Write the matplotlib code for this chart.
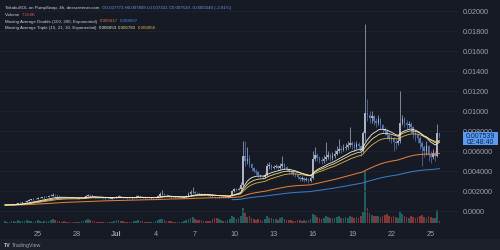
import numpy as np
import pandas as pd
import matplotlib
matplotlib.use("Agg")
import matplotlib.pyplot as plt
from matplotlib.patches import Rectangle

# ---------------- data (prices in units of 1e-5, volume in K) ----------------
first_open = 58
closes = [60, 62, 61, 65, 70, 72, 80, 85, 90, 95,
          105, 110, 118, 120, 125, 130, 135, 138, 140, 145,
          150, 155, 165, 160, 150, 145, 140, 138, 135, 132,
          130, 128, 127, 125, 128, 130, 135, 150, 165, 160,
          150, 140, 135, 132, 130, 128, 130, 127, 125, 128,
          135, 145, 150, 140, 135, 132, 130, 128, 130, 135,
          145, 150, 140, 135, 130, 128, 127, 130, 132, 135,
          150, 170, 175, 165, 160, 150, 140, 138, 135, 132,
          130, 133, 140, 150, 170, 190, 195, 185, 180, 170,
          175, 172, 165, 160, 150, 145, 140, 138, 140, 145,
          140, 135, 140, 150, 200, 220, 215, 225, 260, 550,
          500, 520, 470, 430, 400, 390, 360, 350, 345, 360,
          450, 460, 430, 440, 450, 430, 450, 470, 440, 420,
          400, 390, 370, 360, 340, 320, 330, 310, 320, 300,
          330, 520, 560, 530, 510, 500, 520, 540, 560, 530,
          550, 570, 600, 620, 610, 630, 640, 660, 680, 660,
          640, 670, 650, 600, 780, 980, 960, 930, 950, 900,
          880, 920, 860, 820, 800, 760, 730, 720, 690, 680,
          700, 880, 920, 880, 860, 870, 840, 780, 760, 730,
          680, 640, 600, 650, 560, 540, 580, 550, 777.3, 753.9]
highs = [64, 66, 65, 68, 74, 76, 84, 90, 94, 100,
         110, 116, 122, 126, 132, 136, 142, 145, 150, 155,
         160, 170, 180, 172, 165, 155, 148, 144, 140, 138,
         135, 134, 132, 130, 134, 138, 145, 165, 175, 170,
         165, 152, 145, 138, 136, 134, 135, 133, 131, 134,
         142, 155, 160, 155, 145, 140, 136, 134, 136, 142,
         160, 165, 155, 145, 138, 134, 132, 136, 138, 142,
         165, 195, 210, 180, 170, 165, 155, 145, 142, 138,
         136, 140, 150, 165, 190, 215, 240, 200, 192, 185,
         185, 180, 175, 170, 165, 155, 148, 145, 148, 152,
         150, 145, 148, 160, 215, 235, 230, 240, 290, 700,
         700, 640, 560, 480, 440, 420, 400, 370, 365, 380,
         480, 490, 470, 460, 470, 460, 480, 550, 480, 450,
         430, 410, 400, 380, 370, 350, 350, 340, 340, 330,
         360, 600, 640, 580, 550, 540, 560, 690, 600, 580,
         590, 610, 650, 720, 650, 670, 680, 700, 840, 700,
         690, 700, 690, 660, 800, 1870, 1120, 1000, 1000, 960,
         930, 960, 930, 870, 840, 820, 780, 760, 740, 720,
         760, 1200, 960, 940, 910, 900, 890, 850, 800, 780,
         750, 700, 660, 700, 660, 600, 620, 600, 870, 780.9]
lows = [56, 58, 58, 60, 64, 68, 70, 78, 84, 88,
        94, 102, 108, 114, 118, 124, 128, 132, 134, 138,
        142, 148, 152, 152, 145, 140, 135, 132, 130, 126,
        124, 122, 120, 120, 122, 126, 130, 133, 148, 152,
        142, 134, 130, 128, 126, 124, 124, 122, 120, 122,
        126, 132, 138, 134, 130, 128, 125, 124, 125, 128,
        132, 138, 134, 130, 125, 123, 122, 124, 126, 130,
        132, 145, 160, 158, 152, 145, 135, 132, 130, 127,
        126, 128, 130, 137, 145, 165, 180, 175, 170, 160,
        165, 165, 158, 152, 145, 140, 135, 132, 135, 138,
        135, 130, 132, 136, 148, 195, 205, 210, 220, 250,
        450, 470, 440, 400, 380, 360, 340, 330, 320, 335,
        350, 420, 410, 420, 430, 410, 420, 430, 420, 400,
        380, 370, 350, 340, 320, 300, 300, 290, 300, 280,
        290, 320, 500, 500, 480, 470, 480, 500, 520, 500,
        510, 530, 560, 580, 580, 600, 610, 620, 640, 620,
        600, 620, 620, 550, 590, 700, 900, 880, 880, 860,
        840, 860, 820, 780, 760, 720, 700, 680, 600, 620,
        660, 680, 860, 840, 820, 830, 780, 730, 700, 680,
        620, 450, 540, 560, 500, 480, 520, 500, 540, 733.1]
volumes = [1.0, 0.8, 0.6, 1.2, 1.5, 0.9, 1.8, 1.2, 1.0, 1.4, 2.0, 1.1, 1.5, 0.9, 1.2, 1.6, 1.0, 0.8, 1.1, 1.3,
           1.5, 1.8, 2.2, 1.6, 1.3, 1.0, 0.9, 1.1, 0.8, 0.7, 0.9, 0.6, 0.8, 0.7, 0.9, 1.0, 1.4, 2.0, 2.4, 1.6,
           1.2, 1.0, 0.8, 0.7, 0.9, 0.6, 0.8, 0.7, 0.6, 0.8, 1.2, 1.6, 1.8, 1.3, 1.0, 0.8, 0.7, 0.6, 0.8, 1.0,
           1.5, 1.8, 1.4, 1.0, 0.8, 0.7, 0.6, 0.8, 0.9, 1.1, 1.6, 2.2, 2.5, 1.8, 1.4, 1.2, 1.0, 0.8, 0.7, 0.6,
           0.7, 0.9, 1.2, 1.6, 2.4, 3.0, 3.5, 2.6, 2.0, 1.6, 1.8, 1.4, 1.2, 1.0, 1.3, 2.5, 3.2, 2.8, 2.2, 1.8,
           1.5, 1.2, 1.6, 2.5, 4.0, 3.5, 2.5, 3.0, 4.5, 9.0, 6.0, 3.5, 4.2, 3.0, 2.5, 2.0, 2.2, 1.8, 1.5, 2.5,
           4.0, 3.0, 2.8, 2.5, 2.4, 2.0, 2.8, 3.5, 2.6, 2.0, 1.8, 1.6, 1.5, 1.4, 1.6, 1.8, 1.4, 1.6, 1.5, 1.8,
           2.5, 5.5, 4.8, 3.5, 3.0, 2.6, 3.2, 4.5, 3.8, 3.0, 2.8, 3.2, 3.6, 4.5, 3.2, 3.0, 3.4, 3.0, 4.2, 3.5,
           3.0, 3.4, 3.2, 4.0, 6.5, 32.0, 9.0, 6.0, 5.0, 4.5, 4.0, 4.2, 3.8, 4.5, 5.0, 5.5, 4.2, 3.8, 4.5, 3.6,
           3.2, 7.0, 5.5, 4.5, 3.8, 3.2, 4.0, 3.6, 3.2, 3.8, 4.2, 4.8, 3.6, 3.2, 4.0, 3.5, 3.0, 3.2, 8.0, 1.5]

start_time = "2025-06-22 12:00"
tick_dates = ["2025-06-25", "2025-06-28", "2025-07-01", "2025-07-04", "2025-07-07", "2025-07-10",
              "2025-07-13", "2025-07-16", "2025-07-19", "2025-07-22", "2025-07-25"]
tick_labels = ["25", "28", "Jul", "4", "7", "10", "13", "16", "19", "22", "25"]
price_ticks = [0.0, 0.002, 0.004, 0.006, 0.008, 0.010, 0.012, 0.014, 0.016, 0.018, 0.020]
price_tick_labels = ["0.0000", "0.002000", "0.004000", "0.006000", "0.008000", "0.01000",
                     "0.01200", "0.01400", "0.01600", "0.01800", "0.02000"]
last_price_text = "0.007539"
countdown_text = "02:48:40"

# ---------------- prep ----------------
scale = 1e-5
c = np.array(closes, dtype=float) * scale
h = np.array(highs, dtype=float) * scale
l = np.array(lows, dtype=float) * scale
o = np.concatenate([[first_open * scale], c[:-1]])
v = np.array(volumes, dtype=float)
n = len(c)
idx = np.arange(n)
tick_pos = [(pd.Timestamp(d) - pd.Timestamp(start_time)) / pd.Timedelta("4h") for d in tick_dates]

s = pd.Series(c)
ema15 = s.ewm(span=15, adjust=False).mean().values
ema21 = s.ewm(span=21, adjust=False).mean().values
ema30 = s.ewm(span=30, adjust=False).mean().values
ema100 = s.ewm(span=100, adjust=False).mean().values
ema200 = s.ewm(span=200, adjust=False).mean().values

# ---------------- style ----------------
BG = "#161a25"
STRIP = "#1c202b"
GRID = "#1f2330"
TXT = "#9ea2ab"
UP = "#aab2c3"
DOWN = "#5779b8"
VUP = "#26a69a"
VDN = "#ef5350"
C15, C21, C30 = "#f2efdf", "#eee08e", "#e2b748"
C100, C200 = "#e07d3a", "#3b78c9"
FONT = "Liberation Sans"

W, H = 500, 251
fig = plt.figure(figsize=(W / 100, H / 100), dpi=100)
fig.patch.set_facecolor(BG)

def fx(px):
    return px / W

def fy(py):
    return (H - py) / H

top_px, bot_px, right_px = 2, 226, 458
rect = [0, fy(bot_px), fx(right_px), (bot_px - top_px) / H]

x0 = -5 / 2.183
x1 = x0 + right_px / 2.183

# volume axis (behind)
axv = fig.add_axes(rect)
axv.set_facecolor(BG)
vcol = np.where(c >= o, VUP, VDN)
axv.bar(idx, v, width=0.75, color=vcol, alpha=0.5, linewidth=0)
axv.set_xlim(x0, x1)
axv.set_ylim(-2 * 0.6, (bot_px - top_px - 2) * 0.6)
axv.axis("off")

# price axis
ax = fig.add_axes(rect)
ax.patch.set_alpha(0)
ax.set_xlim(x0, x1)
ax.set_ylim(-0.0014, 0.021)
for yv in price_ticks:
    ax.axhline(yv, color=GRID, lw=0.6, zorder=0)

up = c >= o
col = np.where(up, UP, DOWN)
ax.vlines(idx, l, h, colors=col, lw=0.5, zorder=2)
ax.bar(idx, np.maximum(np.abs(c - o), 0.00002), bottom=np.minimum(o, c), width=0.7,
       color=col, linewidth=0, zorder=3)

ax.plot(idx, ema100, color=C100, lw=0.75, zorder=4)
m200 = idx >= 104
ax.plot(idx[m200], ema200[m200], color=C200, lw=0.75, zorder=4)
ax.plot(idx, ema30, color=C30, lw=0.6, zorder=5)
ax.plot(idx, ema21, color=C21, lw=0.6, zorder=5)
ax.plot(idx, ema15, color=C15, lw=0.6, zorder=5)

ax.yaxis.tick_right()
ax.set_yticks(price_ticks)
ax.set_yticklabels(price_tick_labels, fontfamily=FONT)
ax.set_xticks(tick_pos)
ax.set_xticklabels(tick_labels, fontfamily=FONT)
for lab in ax.get_xticklabels():
    if lab.get_text() == "Jul":
        lab.set_color("#d1d4dc")
        lab.set_fontweight("bold")
ax.tick_params(axis="y", length=0, pad=3.4, labelsize=5.2, labelcolor=TXT)
ax.tick_params(axis="x", length=0, pad=3.4, labelsize=5.2, labelcolor=TXT)
for sp in ax.spines.values():
    sp.set_visible(False)

# bottom strip
fig.patches.append(Rectangle((0, 0), 1, fy(240), transform=fig.transFigure,
                             facecolor=STRIP, edgecolor="none", zorder=0))
fig.text(fx(4), fy(245.5), "TV", fontsize=3.8, fontweight="bold", color="#c8cbd2",
         va="center", ha="left", fontfamily=FONT)
fig.text(fx(11.5), fy(245.5), "TradingView", fontsize=3.8, color="#9ea2ab",
         va="center", ha="left", fontfamily=FONT)

# last price box (drawn over the axis label beneath, as in the reference)
fig.patches.append(Rectangle((fx(463), fy(146)), fx(498) - fx(463), fy(132.5) - fy(146),
                             transform=fig.transFigure, facecolor="#5b9cf3", edgecolor="none", zorder=5))
fig.text(fx(480.5), fy(136.2), last_price_text, fontsize=5.0, color="#0e2149", ha="center",
         va="center", fontfamily=FONT, zorder=6)
fig.text(fx(480.5), fy(142.3), countdown_text, fontsize=5.0, color="#0e2149", ha="center",
         va="center", fontfamily=FONT, zorder=6)

# header legend
fig.canvas.draw()
renderer = fig.canvas.get_renderer()

def seg_line(x_px, y_px, parts, size=3.2):
    x = fx(x_px)
    for txt, color in parts:
        t = fig.text(x, fy(y_px), txt, fontsize=size, color=color, va="center", ha="left",
                     fontfamily=FONT)
        bb = t.get_window_extent(renderer=renderer)
        x += bb.width / W

WHITE = "#d1d4dc"
BLUE_V = "#6d98e8"
seg_line(5, 8.5, [("TokabuSOL on PumpSwap, 4h, dexscreener.com  ", WHITE),
                  ("O0.007773 H0.007809 L0.007331 C0.007539 -0.0002340 (-3.01%)", BLUE_V)])
seg_line(5, 15, [("Volume  ", WHITE), ("7.158K", "#e25b5b")])
seg_line(5, 21.5, [("Moving Average Double (100, 200, Exponential)  ", WHITE),
                   ("0.005617", C100), ("  ", WHITE), ("0.004607", "#4f8be0")])
seg_line(5, 28, [("Moving Average Triple (15, 21, 30, Exponential)  ", WHITE),
                 ("0.006653", C15), (" ", WHITE), ("0.006783", C21), (" ", WHITE), ("0.006856", C30)])

fig.savefig("out.png", dpi=100, facecolor=BG)
